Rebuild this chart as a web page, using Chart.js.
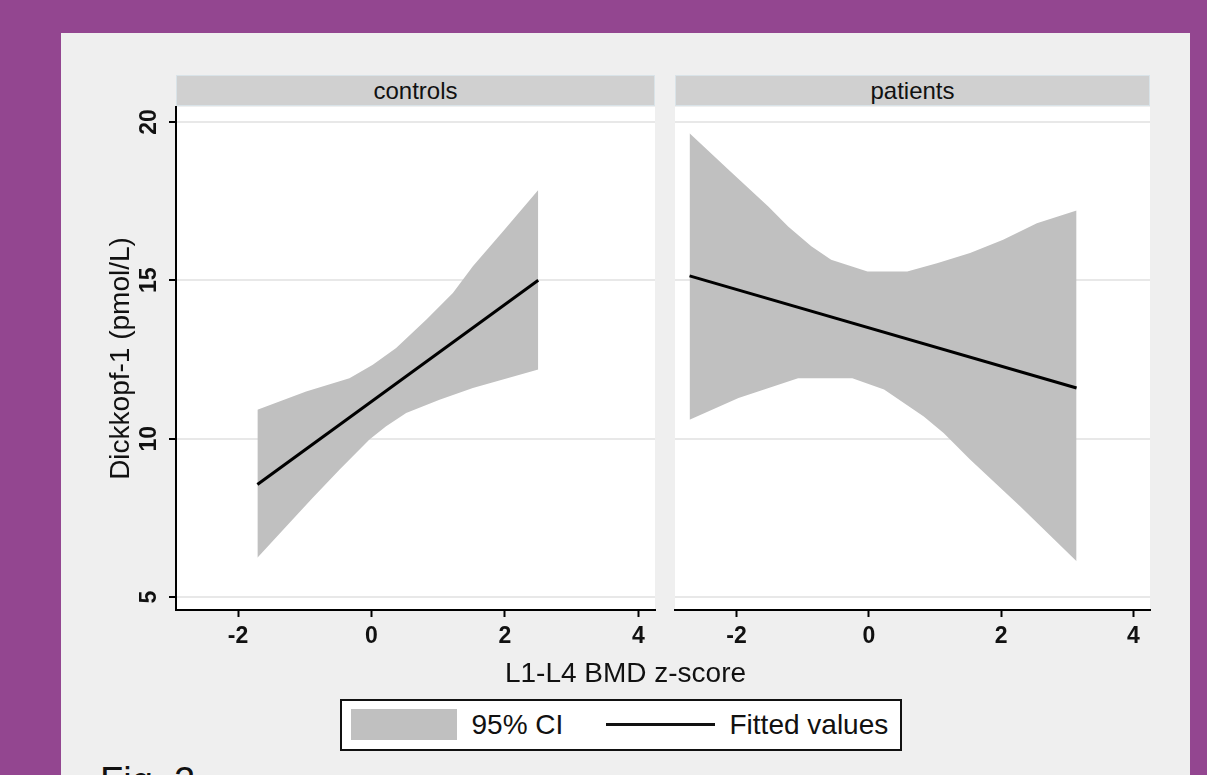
<!DOCTYPE html>
<html>
<head>
<meta charset="utf-8">
<script src="https://cdn.jsdelivr.net/npm/chart.js@4/dist/chart.umd.min.js"></script>
<style>
  html, body { margin: 0; padding: 0; }
  body {
    width: 1207px; height: 775px; overflow: hidden; position: relative;
    background: #934690;
    font-family: 'Liberation Sans', Arial, sans-serif; color: #111;
  }
  .abs { position: absolute; }
  #panel { left: 61px; top: 33px; width: 1129px; height: 742px; background: #EFEFEF; }
  .strip {
    top: 75px; height: 31px; background: #D0D0D0; box-sizing: border-box;
    border: 1px solid #D9E3E8; text-align: center; line-height: 29px; font-size: 24px;
  }
  #xtitle { left: 61px; width: 1129px; top: 659px; text-align: center; font-size: 28px; line-height: 28px; }
  #legend {
    left: 340px; top: 699px; width: 562px; height: 52px; box-sizing: border-box;
    border: 2.5px solid #111; background: #fff;
  }
  #legend .item { top: 0; line-height: 47px; font-size: 28px; white-space: nowrap; }
  #fig { left: 100px; top: 762px; font-size: 38px; line-height: 38px; }
</style>
</head>
<body>
<div id="panel" class="abs"></div>
<div class="abs strip" style="left:176px; width:479px;">controls</div>
<div class="abs strip" style="left:675px; width:475px;">patients</div>
<canvas id="cControls" class="abs" style="left:70px; top:100px;" width="590" height="560"></canvas>
<canvas id="cPatients" class="abs" style="left:670px; top:100px;" width="485" height="560"></canvas>
<div id="xtitle" class="abs">L1-L4 BMD z-score</div>
<div id="legend" class="abs">
  <div class="abs" style="left:8.5px; top:8px; width:106px; height:31px; background:#C0C0C0;"></div>
  <div class="abs item" style="left:129.5px;">95% CI</div>
  <div class="abs" style="left:263.5px; top:22px; width:109px; height:2.5px; background:#111;"></div>
  <div class="abs item" style="left:387.5px;">Fitted values</div>
</div>
<div id="fig" class="abs">Fig. 2</div>

<script>
// Axis ticks
const xTicks = [-2, 0, 2, 4];
const yTicks = [5, 10, 15, 20];
const xRange = [-2.93, 4.25];
const yRange = [4.59, 20.47];

// controls: 95% confidence band and fitted line, [z-score, pmol/L]
const ctrlUpper = [[-1.71, 10.91], [-0.98, 11.49], [-0.33, 11.91], [0.02, 12.33], [0.37, 12.86],
                   [0.82, 13.75], [1.22, 14.60], [1.52, 15.44], [1.97, 16.54], [2.50, 17.85]];
const ctrlLower = [[-1.71, 6.24], [-1.23, 7.34], [-0.88, 8.13], [-0.48, 9.02], [-0.03, 9.97],
                   [0.22, 10.39], [0.52, 10.81], [1.02, 11.23], [1.52, 11.60], [2.50, 12.18]];
const ctrlFit = [[-1.71, 8.55], [2.50, 15.00]];

// patients: 95% confidence band and fitted line, [z-score, pmol/L]
const patUpper = [[-2.71, 19.64], [-2.12, 18.49], [-1.52, 17.33], [-1.22, 16.70], [-0.87, 16.07],
                  [-0.57, 15.65], [-0.02, 15.28], [0.58, 15.28], [1.03, 15.54], [1.53, 15.86],
                  [2.03, 16.28], [2.54, 16.80], [3.14, 17.20]];
const patLower = [[-2.71, 10.60], [-1.97, 11.28], [-1.07, 11.91], [-0.25, 11.91], [0.23, 11.55],
                  [0.83, 10.70], [1.13, 10.18], [1.53, 9.34], [2.29, 7.86], [3.14, 6.13]];
const patFit = [[-2.71, 15.14], [3.14, 11.60]];

const FONT = "'Liberation Sans', Arial, sans-serif";
const INK = '#111';
const BAND = '#C0C0C0';

const toPts = arr => arr.map(([x, y]) => ({ x, y }));

// white plot region behind the marks
const plotBg = {
  id: 'plotBg',
  beforeDraw(chart) {
    const { ctx, chartArea: a } = chart;
    ctx.save();
    ctx.fillStyle = '#fff';
    ctx.fillRect(a.left, a.top, a.right - a.left, a.bottom - a.top);
    ctx.restore();
  }
};

// band = area between lower and upper limits; fitted line drawn on top (lowest order)
function datasets(upper, lower, fit) {
  return [
    { data: toPts(lower), order: 2, borderColor: 'rgba(0,0,0,0)', borderWidth: 0, pointRadius: 0, fill: false },
    { data: toPts(upper), order: 1, borderColor: 'rgba(0,0,0,0)', borderWidth: 0, pointRadius: 0,
      fill: '-1', backgroundColor: BAND },
    { data: toPts(fit), order: 0, borderColor: '#000', borderWidth: 3, pointRadius: 0, fill: false }
  ];
}

function xScale() {
  return {
    type: 'linear', min: xRange[0], max: xRange[1],
    afterBuildTicks: s => { s.ticks = xTicks.map(v => ({ value: v })); },
    afterFit: s => { s.height = 50; s.paddingLeft = 0; s.paddingRight = 0; },
    ticks: { autoSkip: false, maxRotation: 0, padding: 6, color: INK,
             font: { family: FONT, size: 23, weight: 'bold' } },
    grid: { drawOnChartArea: false, tickColor: '#000', tickWidth: 2, tickLength: 7 },
    border: { color: '#000', width: 2 }
  };
}

function makeChart(id, upper, lower, fit, withAxis) {
  const y = {
    type: 'linear', min: yRange[0], max: yRange[1],
    afterBuildTicks: s => { s.ticks = yTicks.map(v => ({ value: v })); },
    grid: { color: '#E8E8E8', lineWidth: 2, tickColor: '#000', tickWidth: 2, tickLength: 7,
            drawTicks: withAxis },
    border: { display: withAxis, color: '#000', width: 2 }
  };
  if (withAxis) {
    y.afterFit = s => { s.width = 106; s.paddingTop = 0; s.paddingBottom = 0; };
    y.ticks = { autoSkip: false, minRotation: 90, maxRotation: 90, crossAlign: 'center', padding: 7,
                color: INK, font: { family: FONT, size: 23, weight: 'bold' } };
    y.title = { display: true, text: 'Dickkopf-1 (pmol/L)', color: INK,
                font: { family: FONT, size: 28 }, padding: { top: 34, bottom: 0 } };
  } else {
    y.afterFit = s => { s.width = 0; s.paddingTop = 0; s.paddingBottom = 0; };
    y.ticks = { display: false };
  }
  return new Chart(document.getElementById(id), {
    type: 'line',
    data: { datasets: datasets(upper, lower, fit) },
    options: {
      responsive: false, animation: false,
      layout: { padding: { top: 7, right: 5, bottom: 0, left: withAxis ? 0 : 5 } },
      plugins: { legend: { display: false }, tooltip: { enabled: false } },
      scales: { x: xScale(), y }
    },
    plugins: [plotBg]
  });
}

makeChart('cControls', ctrlUpper, ctrlLower, ctrlFit, true);
makeChart('cPatients', patUpper, patLower, patFit, false);
</script>
</body>
</html>
